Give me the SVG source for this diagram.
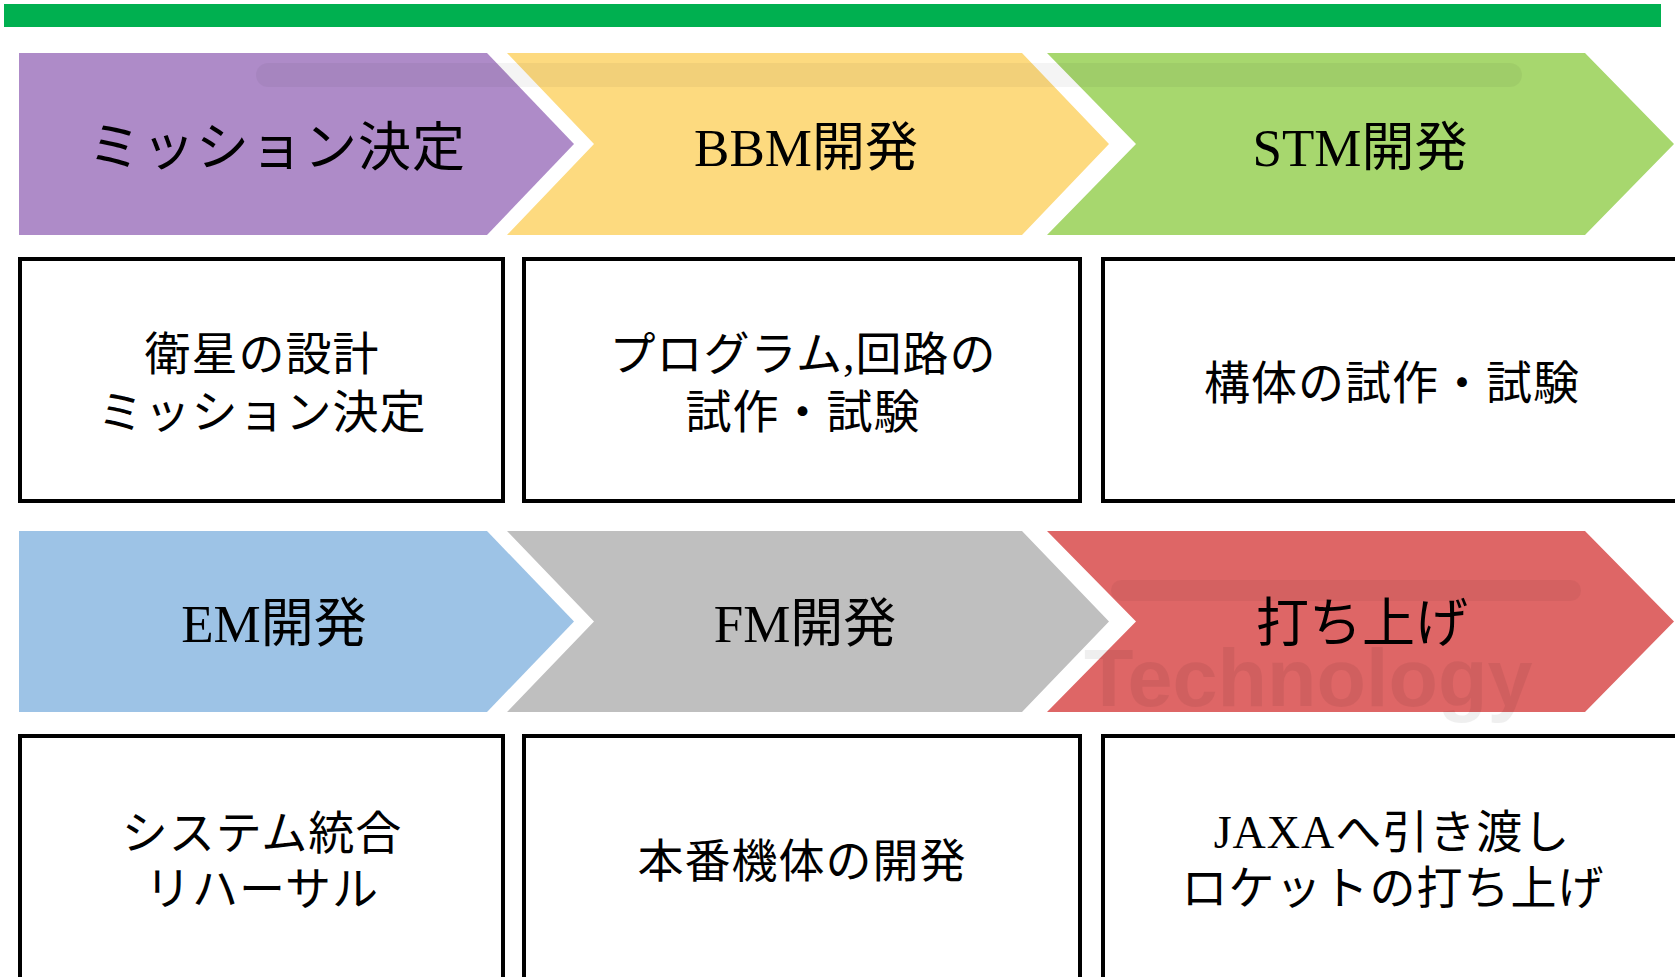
<svg xmlns="http://www.w3.org/2000/svg" width="1675" height="977" viewBox="0 0 1675 977">
  <style>
    .box { fill: #FFFFFF; stroke: #000000; stroke-width: 4; }
    .head { font-family: "Liberation Serif", "Noto Sans CJK JP", serif; font-size: 53px; fill: #000000; text-anchor: middle; }
    .jp { font-family: "Noto Sans CJK JP", sans-serif; }
    .body { font-family: "Liberation Serif", "Noto Sans CJK JP", serif; font-size: 46px; fill: #000000; text-anchor: middle; letter-spacing: 1px; }
    .wm { fill: #000000; opacity: 0.045; }
    .wmt { fill: #000000; opacity: 0.06; }
  </style>
  <rect x="0" y="0" width="1675" height="977" fill="#FFFFFF"/>
  <rect id="top-bar" x="4" y="4" width="1657" height="23" fill="#00B050"/>

  <g id="chev-mission">
    <polygon points="19,53 487,53 574,144 487,235 19,235" fill="#AE8BC8"/>
  </g>
  <g id="chev-bbm">
    <polygon points="507,53 1022,53 1109,144 1022,235 507,235 594,144" fill="#FDDA7F"/>
  </g>
  <g id="chev-stm">
    <polygon points="1047,53 1585,53 1674,144 1585,235 1047,235 1136,144" fill="#A7D76E"/>
  </g>
  <g id="chev-em">
    <polygon points="19,531 487,531 574,621.5 487,712 19,712" fill="#9DC3E6"/>
  </g>
  <g id="chev-fm">
    <polygon points="507,531 1022,531 1109,621.5 1022,712 507,712 594,621.5" fill="#BFBFBF"/>
  </g>
  <g id="chev-launch">
    <polygon points="1047,531 1585,531 1674,621.5 1585,712 1047,712 1136,621.5" fill="#DE6666"/>
  </g>

  <g id="watermark">
    <rect class="wm" x="256" y="63" width="1266" height="24" rx="12"/>
    <rect class="wm" x="1111" y="580" width="470" height="21" rx="10"/>
    <text class="wmt" x="1084" y="706" font-family="Liberation Sans, Arial, sans-serif" font-size="81" font-weight="bold">Technology</text>
  </g>

  <g id="label-mission"><text class="head jp" x="277" y="166" letter-spacing="1">ミッション決定</text></g>
  <g id="label-bbm"><text class="head" x="806" y="166">BBM開発</text></g>
  <g id="label-stm"><text class="head" x="1360" y="166">STM開発</text></g>
  <g id="label-em"><text class="head" x="274" y="642">EM開発</text></g>
  <g id="label-fm"><text class="head" x="805" y="642">FM開発</text></g>
  <g id="label-launch"><text class="head jp" x="1362" y="642">打ち上げ</text></g>

  <g id="box-design">
    <rect class="box" x="20" y="259" width="483" height="242"/>
    <text class="body" x="262" y="370">衛星の設計</text>
    <text class="body" x="262" y="428">ミッション決定</text>
  </g>
  <g id="box-bbm">
    <rect class="box" x="524" y="259" width="556" height="242"/>
    <text class="body" x="803" y="370">プログラム,回路の</text>
    <text class="body" x="803" y="428">試作・試験</text>
  </g>
  <g id="box-stm">
    <rect class="box" x="1103" y="259" width="600" height="242"/>
    <text class="body" x="1392" y="399">構体の試作・試験</text>
  </g>
  <g id="box-em">
    <rect class="box" x="20" y="736" width="483" height="300"/>
    <text class="body" x="262" y="849">システム統合</text>
    <text class="body" x="262" y="905">リハーサル</text>
  </g>
  <g id="box-fm">
    <rect class="box" x="524" y="736" width="556" height="300"/>
    <text class="body" x="802" y="877">本番機体の開発</text>
  </g>
  <g id="box-launch">
    <rect class="box" x="1103" y="736" width="600" height="300"/>
    <text class="body" x="1392" y="848">JAXAへ引き渡し</text>
    <text class="body" x="1393" y="904">ロケットの打ち上げ</text>
  </g>

  <g id="connectors"></g>
</svg>
